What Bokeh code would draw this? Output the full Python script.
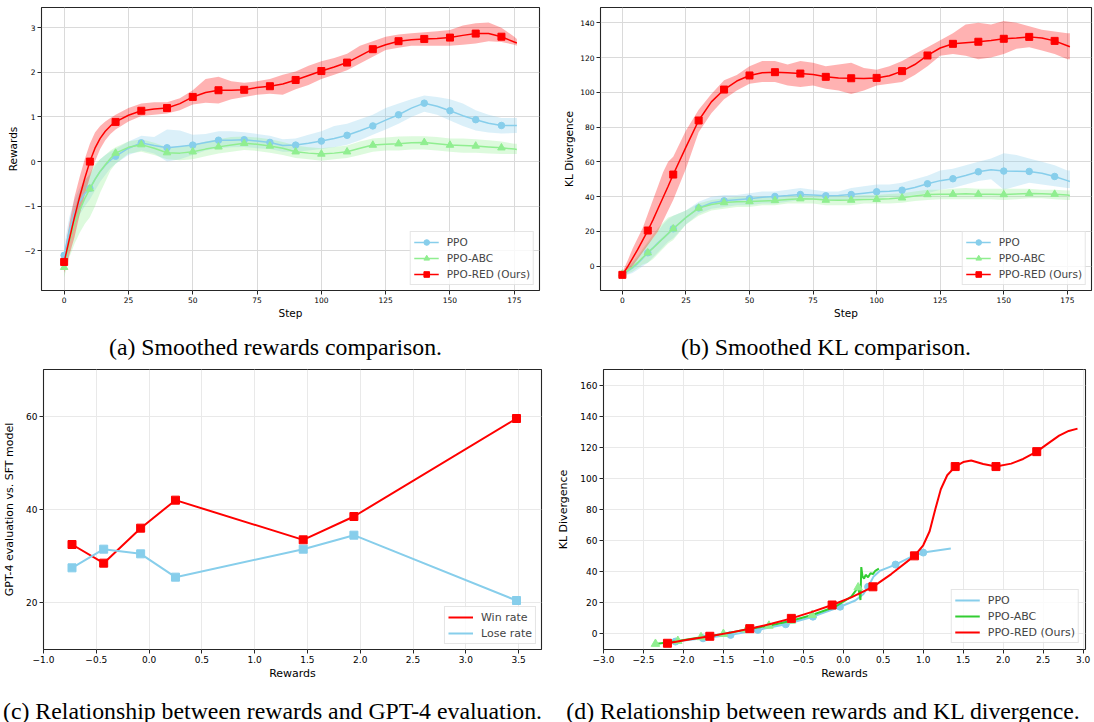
from bokeh.plotting import figure
from bokeh.layouts import column, row
from bokeh.models import Range1d, FixedTicker
from bokeh.embed import file_html
from bokeh.resources import INLINE
from bokeh.core.properties import value

# ---------------- data: panels (a) and (b) ----------------
STEPS = [0, 2, 4, 6, 8, 10, 12, 14, 16, 18, 20, 25, 30, 35, 40, 45, 50, 55, 60, 65, 70,
         75, 80, 85, 90, 95, 100, 105, 110, 115, 120, 125, 130, 135, 140, 145, 150, 155,
         160, 165, 170, 175, 176]

# (a) smoothed rewards
PPO_RW = [-2.1, -1.55, -1.15, -0.9, -0.72, -0.6, -0.4, -0.22, -0.08, 0.03, 0.12, 0.3, 0.42, 0.36,
          0.31, 0.34, 0.37, 0.43, 0.48, 0.48, 0.49, 0.46, 0.43, 0.36, 0.37, 0.41, 0.46, 0.52, 0.59,
          0.69, 0.8, 0.93, 1.05, 1.2, 1.31, 1.24, 1.14, 1.03, 0.94, 0.86, 0.81, 0.81, 0.81]
PPO_RW_LO = [-2.3, -1.85, -1.45, -1.2, -1.0, -0.85, -0.65, -0.45, -0.3, -0.15, -0.05, 0.15, 0.25,
             0.18, 0.0, 0.05, 0.15, 0.25, 0.3, 0.32, 0.33, 0.3, 0.28, 0.22, 0.22, 0.25, 0.28, 0.32,
             0.38, 0.48, 0.6, 0.72, 0.85, 1.0, 1.12, 1.05, 0.92, 0.8, 0.7, 0.65, 0.63, 0.64, 0.64]
PPO_RW_HI = [-1.9, -1.25, -0.85, -0.6, -0.4, -0.3, -0.1, 0.05, 0.15, 0.22, 0.28, 0.45, 0.58, 0.55,
             0.72, 0.7, 0.6, 0.62, 0.68, 0.68, 0.66, 0.62, 0.58, 0.5, 0.52, 0.6, 0.68, 0.8, 0.85,
             0.95, 1.05, 1.2, 1.3, 1.4, 1.48, 1.45, 1.4, 1.3, 1.15, 1.05, 0.98, 0.98, 0.98]

ABC_RW = [-2.37, -1.8, -1.4, -1.1, -0.83, -0.61, -0.4, -0.22, -0.07, 0.07, 0.19, 0.32, 0.38, 0.3,
          0.2, 0.19, 0.22, 0.28, 0.33, 0.37, 0.41, 0.39, 0.35, 0.3, 0.22, 0.19, 0.17, 0.19, 0.22,
          0.3, 0.37, 0.39, 0.4, 0.42, 0.43, 0.4, 0.37, 0.36, 0.35, 0.33, 0.31, 0.28, 0.27]
ABC_RW_LO = [-2.6, -2.15, -1.85, -1.6, -1.4, -1.25, -1.0, -0.7, -0.45, -0.2, -0.05, 0.18, 0.22,
             0.15, 0.05, 0.03, 0.05, 0.12, 0.18, 0.22, 0.26, 0.24, 0.2, 0.15, 0.08, 0.05, 0.02,
             0.05, 0.08, 0.15, 0.22, 0.25, 0.25, 0.27, 0.27, 0.25, 0.22, 0.2, 0.2, 0.18, 0.17,
             0.17, 0.17]
ABC_RW_HI = [-2.15, -1.5, -1.05, -0.7, -0.45, -0.25, -0.05, 0.05, 0.15, 0.25, 0.32, 0.45, 0.5,
             0.42, 0.32, 0.32, 0.38, 0.45, 0.5, 0.55, 0.56, 0.54, 0.5, 0.44, 0.36, 0.32, 0.3,
             0.33, 0.36, 0.45, 0.52, 0.54, 0.56, 0.57, 0.57, 0.55, 0.52, 0.52, 0.5, 0.48, 0.45,
             0.4, 0.4]

RED_RW = [-2.25, -1.75, -1.25, -0.8, -0.38, 0.0, 0.3, 0.52, 0.68, 0.8, 0.89, 1.04, 1.14, 1.18,
          1.2, 1.3, 1.45, 1.55, 1.6, 1.6, 1.61, 1.66, 1.69, 1.74, 1.83, 1.93, 2.03, 2.12, 2.22,
          2.37, 2.52, 2.62, 2.7, 2.73, 2.75, 2.76, 2.78, 2.83, 2.87, 2.87, 2.8, 2.68, 2.66]
RED_RW_LO = [-2.5, -2.1, -1.7, -1.2, -0.75, -0.35, 0.0, 0.28, 0.48, 0.62, 0.72, 0.9, 1.02, 1.05,
             1.08, 1.15, 1.28, 1.32, 1.3, 1.4, 1.45, 1.5, 1.52, 1.5, 1.62, 1.72, 1.85, 1.95, 2.05,
             2.2, 2.35, 2.5, 2.55, 2.6, 2.6, 2.6, 2.6, 2.62, 2.65, 2.7, 2.68, 2.62, 2.6]
RED_RW_HI = [-2.1, -1.4, -0.8, -0.35, 0.05, 0.4, 0.65, 0.8, 0.9, 0.98, 1.05, 1.2, 1.3, 1.33,
             1.33, 1.42, 1.6, 1.85, 1.9, 1.8, 1.77, 1.8, 1.85, 1.95, 2.02, 2.15, 2.25, 2.32, 2.42,
             2.6, 2.7, 2.8, 2.85, 2.88, 2.9, 2.92, 2.95, 3.05, 3.1, 3.12, 3.0, 2.8, 2.75]

# (b) smoothed KL
PPO_KL = [-5.0, -3.0, -1.0, 1.5, 4.5, 7.7, 10.5, 13.5, 16.0, 18.7, 21.5, 28.0, 33.5, 36.3, 37.6,
          38.2, 38.8, 39.6, 40.1, 40.6, 41.2, 40.9, 40.5, 40.6, 41.2, 42.0, 42.8, 43.1, 43.7, 45.3,
          47.4, 49.2, 50.3, 52.2, 54.3, 55.5, 54.7, 54.6, 54.5, 53.5, 51.6, 49.2, 48.7]
PPO_KL_LO = [-6.0, -5.0, -4.0, -2.0, 0.0, 2.0, 5.0, 8.0, 11.0, 14.0, 16.0, 24, 30, 33, 34, 35, 35,
             36, 36, 37, 38, 38, 38, 38, 38, 39, 39, 40, 40, 41, 42, 44, 45, 47, 49, 50, 44, 46,
             48, 47, 46, 45, 45]
PPO_KL_HI = [-4.0, -1.0, 2.0, 5.0, 9.0, 13.0, 16.0, 20.0, 24.0, 27.0, 29.0, 32, 37, 40, 41, 41,
             42, 43, 43, 44, 45, 44, 43, 43, 45, 46, 47, 47, 48, 50, 52, 55, 56, 58, 60, 62, 65,
             64, 62, 60, 58, 55, 55]

ABC_KL = [-4.5, -2.5, -0.5, 2.0, 5.0, 7.7, 10.3, 13.0, 16.0, 18.8, 21.5, 28.0, 33.4, 35.5, 36.6,
          37.0, 37.2, 37.5, 37.8, 38.3, 38.8, 38.6, 38.0, 37.9, 38.0, 38.3, 38.5, 38.8, 39.3, 40.3,
          41.2, 41.3, 41.4, 41.6, 41.4, 41.3, 41.2, 41.5, 41.8, 41.7, 41.4, 40.9, 40.7]
ABC_KL_LO = [-5.5, -4.5, -3.0, -1.0, 1.0, 2.0, 4.0, 7.0, 10.0, 13.0, 15.0, 24, 29, 32, 33, 34, 34,
             35, 35, 36, 36, 36, 35, 35, 35, 36, 36, 36, 36.5, 37.5, 38, 38.5, 38.5, 38.5, 38.5,
             38.5, 38, 38.5, 39, 39, 38.5, 38, 38]
ABC_KL_HI = [-3.5, -0.5, 2.5, 6.0, 10.0, 14.0, 18.0, 22.0, 25.0, 28.0, 29.0, 32, 36, 38, 39, 40,
             40, 40, 40, 41, 41, 41, 40.5, 40.5, 40.5, 41, 41, 41.5, 42, 43, 44, 44, 44.5, 45,
             44.5, 44.5, 44.5, 44.5, 44.5, 44, 44, 43.5, 43.5]

RED_KL = [-5.0, -0.5, 4.5, 9.5, 15.0, 20.5, 26.5, 33.0, 39.5, 46.0, 52.7, 68.5, 83.8, 94.5, 101.6,
          106.5, 109.7, 111.3, 111.6, 111.2, 110.8, 110.2, 108.9, 108.2, 108.1, 108.0, 108.3,
          109.5, 112.2, 116.0, 121.2, 125.5, 127.9, 128.5, 129.1, 129.8, 130.8, 131.3, 131.9,
          131.2, 129.6, 126.8, 126.2]
RED_KL_LO = [-6.5, -3.0, 0.0, 4.0, 8.0, 12.0, 16.0, 20.0, 26.0, 32.0, 38.0, 56, 77, 88, 96, 101,
             105, 106, 106, 104, 103, 104, 102, 101, 99, 101, 104, 105, 106, 110, 115, 121, 122,
             121, 119, 120, 122, 125, 126, 124, 122, 119, 119]
RED_KL_HI = [-3.5, 3.0, 10.0, 16.0, 22.0, 30.0, 38.0, 46.0, 54.0, 60.0, 63.0, 78, 90, 99, 107,
             110, 115, 118, 118, 116, 118, 117, 115, 116, 117, 114, 113, 115, 118, 122, 126, 130,
             134, 139, 140, 139, 141, 140, 138, 136, 135, 134, 134]

# ---------------- data: panel (c) ----------------
EVAL_REWARDS = [-0.73, -0.43, -0.08, 0.25, 1.46, 1.94, 3.48]
WIN_RATE = [32.5, 28.5, 36.0, 42.0, 33.5, 38.5, 59.5]
LOSE_RATE = [27.5, 31.5, 30.5, 25.5, 31.5, 34.5, 20.5]

# ---------------- data: panel (d) ----------------
PPO_D_X = [-2.1, -1.755, -1.41, -1.07, -0.72, -0.38, -0.04, 0.15, 0.25, 0.31, 0.38, 0.455, 0.654,
           0.85, 1.0, 1.345]
PPO_D_Y = [-4.9, -2.8, -0.6, 2.6, 6.2, 11.1, 17.5, 21.5, 25.5, 30.3, 37.0, 40.5, 44.6, 49.5, 52.3,
           54.9]
PPO_D_MX = [-2.1, -1.755, -1.41, -1.07, -0.72, -0.38, -0.04, 0.31, 0.654, 1.0]
PPO_D_MY = [-4.9, -2.8, -0.6, 2.6, 6.2, 11.1, 17.5, 30.3, 44.6, 52.3]

ABC_D_X = [-2.35, -2.07, -1.78, -1.5, -1.21, -0.93, -0.65, -0.39, -0.1, 0.1, 0.186, 0.205, 0.215,
           0.225, 0.24, 0.26, 0.28, 0.31, 0.34, 0.37, 0.4, 0.43, 0.445]
ABC_D_Y = [-6.4, -4.5, -2.1, 0.0, 2.8, 5.3, 8.5, 12.2, 17.5, 24.0, 29.9, 25.0, 21.8, 43.0, 37.0,
           35.5, 38.0, 36.5, 39.0, 38.5, 40.5, 41.5, 42.0]
ABC_D_MX = [-2.35, -2.07, -1.78, -1.5, -1.21, -0.93, -0.65, -0.39, 0.186]
ABC_D_MY = [-6.4, -4.5, -2.1, 0.0, 2.8, 5.3, 8.5, 12.2, 29.9]

RED_D_X = [-2.2, -1.95, -1.67, -1.4, -1.17, -0.9, -0.65, -0.4, -0.14, 0.1, 0.37, 0.6, 0.89, 1.0,
           1.08, 1.15, 1.22, 1.3, 1.4, 1.5, 1.6, 1.75, 1.91, 2.1, 2.25, 2.42, 2.55, 2.7, 2.82, 2.93]
RED_D_Y = [-6.0, -3.8, -1.5, 1.0, 3.4, 6.5, 10.0, 14.0, 18.6, 23.5, 30.3, 38.5, 50.2, 57.0, 66.0,
           80.0, 93.0, 102.0, 107.6, 110.5, 111.5, 109.2, 107.6, 109.5, 112.5, 117.2, 122.0, 127.5,
           130.5, 132.0]
RED_D_MX = [-2.2, -1.67, -1.17, -0.65, -0.14, 0.37, 0.89, 1.4, 1.91, 2.42]
RED_D_MY = [-6.0, -1.5, 3.4, 10.0, 18.6, 30.3, 50.2, 107.6, 107.6, 117.2]

# ---------------- ticks and labels ----------------
STEP_TICKS = [0, 25, 50, 75, 100, 125, 150, 175]
RW_TICKS = [-2, -1, 0, 1, 2, 3]
KL_TICKS = [0, 20, 40, 60, 80, 100, 120, 140]
EVAL_X_TICKS = [-1.0, -0.5, 0.0, 0.5, 1.0, 1.5, 2.0, 2.5, 3.0, 3.5]
EVAL_Y_TICKS = [20, 40, 60]
D_X_TICKS = [-3.0, -2.5, -2.0, -1.5, -1.0, -0.5, 0.0, 0.5, 1.0, 1.5, 2.0, 2.5, 3.0]
D_Y_TICKS = [0, 20, 40, 60, 80, 100, 120, 140, 160]

CAPTIONS_TOP = ["(a) Smoothed rewards comparison.", "(b) Smoothed KL comparison."]
CAPTIONS_BOTTOM = ["(c) Relationship between rewards and GPT-4 evaluation.",
                   "(d) Relationship between rewards and KL divergence."]

SKY = "#87ceeb"
LGREEN = "#90ee90"
RED = "#ff0000"
LIME = "#32cd32"
DARK = "#262626"


def lab(v, fmt):
    return fmt.format(v).replace("-", "\u2212")


def make_fig(width, height, xr, yr, bl, br, bt, bb, xticks, yticks, xfmt, yfmt,
             tick_fs, label_fs, xlabel, ylabel, ystand, grid_color):
    p = figure(width=width, height=height, x_range=Range1d(*xr), y_range=Range1d(*yr),
               output_backend="svg", toolbar_location=None,
               min_border_left=bl, min_border_right=br, min_border_top=bt, min_border_bottom=bb)
    p.background_fill_color = "white"
    p.border_fill_color = "white"
    p.outline_line_color = DARK
    p.outline_line_width = 1.1
    p.xaxis.ticker = FixedTicker(ticks=xticks)
    p.yaxis.ticker = FixedTicker(ticks=yticks)
    p.xaxis.major_label_overrides = {t: lab(t, xfmt) for t in xticks}
    p.yaxis.major_label_overrides = {t: lab(t, yfmt) for t in yticks}
    for ax in (p.xaxis[0], p.yaxis[0]):
        ax.axis_line_color = None
        ax.major_tick_line_color = DARK
        ax.major_tick_out = 4
        ax.major_tick_in = 0
        ax.minor_tick_line_color = None
        ax.major_label_standoff = 2
        ax.major_label_text_font = "DejaVu Sans"
        ax.major_label_text_font_size = tick_fs
        ax.major_label_text_color = "black"
        ax.axis_label_text_font = "DejaVu Sans"
        ax.axis_label_text_font_size = label_fs
        ax.axis_label_text_font_style = "normal"
        ax.axis_label_text_color = "black"
    p.xaxis.axis_label = xlabel
    p.yaxis.axis_label = ylabel
    p.xaxis.axis_label_standoff = 1
    p.yaxis.axis_label_standoff = ystand
    p.grid.grid_line_color = grid_color
    p.grid.grid_line_width = 1
    return p


def style_legend(p, fs, margin):
    lg = p.legend[0]
    lg.location = "bottom_right"
    lg.margin = margin
    lg.padding = 3
    lg.spacing = 2
    lg.label_height = 14
    lg.glyph_height = 14
    lg.glyph_width = 25
    lg.label_standoff = 8
    lg.label_text_font = "DejaVu Sans"
    lg.label_text_font_size = fs
    lg.border_line_color = "#cccccc"
    lg.border_line_width = 1
    lg.background_fill_color = "white"
    lg.background_fill_alpha = 0.8


def mark_idx(steps):
    return [i for i, s in enumerate(steps) if s % 10 == 0 and s <= 170]


MI = mark_idx(STEPS)

# ---------------- (a) and (b) ----------------
pa = make_fig(560, 323, (-8.8, 184.8), (-2.89, 3.455), 41, 21, 7, 33, STEP_TICKS, RW_TICKS,
              "{:d}", "{:d}", "7.5px", "10.5px", "Step", "Rewards", 2, "#dadada")
pb = make_fig(534, 323, (-8.6, 184.5), (-14.0, 148.8), 36, 3, 7, 33, STEP_TICKS, KL_TICKS,
              "{:d}", "{:d}", "7.5px", "10.5px", "Step", "KL Divergence", 2, "#dadada")

for p, series in (
    (pa, [(PPO_RW, PPO_RW_LO, PPO_RW_HI), (ABC_RW, ABC_RW_LO, ABC_RW_HI), (RED_RW, RED_RW_LO, RED_RW_HI)]),
    (pb, [(PPO_KL, PPO_KL_LO, PPO_KL_HI), (ABC_KL, ABC_KL_LO, ABC_KL_HI), (RED_KL, RED_KL_LO, RED_KL_HI)]),
):
    colors = [SKY, LGREEN, RED]
    names = ["PPO", "PPO-ABC", "PPO-RED (Ours)"]
    markers = ["circle", "triangle", "square"]
    msizes = [6.5, 7.5, 7]
    for (m, lo, hi), c in zip(series, colors):
        p.varea(x=STEPS, y1=lo, y2=hi, fill_color=c, fill_alpha=0.3)
    for (m, lo, hi), c, n, mk, ms in zip(series, colors, names, markers, msizes):
        p.line(STEPS, m, line_color=c, line_width=1.5, legend_label=n)
        p.scatter([STEPS[i] for i in MI], [m[i] for i in MI], marker=mk, size=ms,
                  fill_color=c, line_color=c, legend_label=n)
    style_legend(p, "10.5px", 5)

# ---------------- (c) ----------------
pc = make_fig(554, 324, (-1.0, 3.717), (10, 70), 41, 13, 9, 35, EVAL_X_TICKS, EVAL_Y_TICKS,
              "{:.1f}", "{:d}", "9px", "11px", "Rewards", "GPT-4 evaluation vs. SFT model", 7,
              "#e9e9e9")
pc.line(EVAL_REWARDS, WIN_RATE, line_color=RED, line_width=2, legend_label="Win rate")
pc.scatter(EVAL_REWARDS, WIN_RATE, marker="square", size=8, fill_color=RED, line_color=RED)
pc.line(EVAL_REWARDS, LOSE_RATE, line_color=SKY, line_width=2, legend_label="Lose rate")
pc.scatter(EVAL_REWARDS, LOSE_RATE, marker="square", size=8, fill_color=SKY, line_color=SKY)
style_legend(pc, "11px", 5)

# ---------------- (d) ----------------
pd_ = make_fig(540, 324, (-3.0, 3.03), (-10, 170), 44, 9, 9, 35, D_X_TICKS, D_Y_TICKS,
               "{:.1f}", "{:d}", "9px", "11px", "Rewards", "KL Divergence", 7, "#e9e9e9")
pd_.line(PPO_D_X, PPO_D_Y, line_color=SKY, line_width=2, legend_label="PPO")
pd_.scatter(PPO_D_MX, PPO_D_MY, marker="circle", size=7, fill_color=SKY, line_color=SKY)
pd_.line(ABC_D_X, ABC_D_Y, line_color=LIME, line_width=2, legend_label="PPO-ABC")
pd_.scatter(ABC_D_MX, ABC_D_MY, marker="triangle", size=8.5, fill_color=LGREEN, line_color=LGREEN)
pd_.line(RED_D_X, RED_D_Y, line_color=RED, line_width=2, legend_label="PPO-RED (Ours)")
pd_.scatter(RED_D_MX, RED_D_MY, marker="square", size=8, fill_color=RED, line_color=RED)
style_legend(pd_, "11px", 6)


# ---------------- captions ----------------
def caption_fig(height, xs, y, texts):
    c = figure(width=1094, height=height, x_range=Range1d(0, 1094), y_range=Range1d(height, 0),
               output_backend="svg", toolbar_location=None, x_axis_type=None, y_axis_type=None,
               min_border=0)
    c.outline_line_color = None
    c.grid.visible = False
    c.text(x=xs, y=[y] * len(texts), text=texts, text_align="center", text_baseline="middle",
           text_font=value("Liberation Serif"), text_font_size=value("23.8px"), text_color="black")
    return c


cap1 = caption_fig(37, [275, 826], 23.5, CAPTIONS_TOP)
cap2 = caption_fig(38, [272, 823], 26, CAPTIONS_BOTTOM)

layout = column(row(pa, pb), cap1, row(pc, pd_), cap2)
open("out.html", "w").write(file_html(layout, INLINE))
